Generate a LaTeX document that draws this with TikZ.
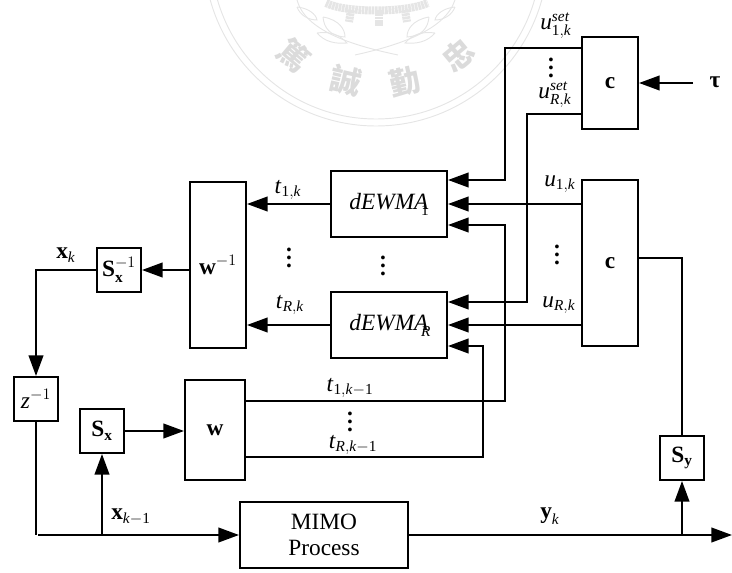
\documentclass[tikz,border=0pt]{standalone}
\usepackage{amsmath}
\usepackage{fontspec}
\setmainfont{Liberation Serif}
\newfontfamily\cjkseal{Noto Sans CJK TC}
\usetikzlibrary{arrows.meta}
\DeclareMathSizes{17.5}{17.5}{11.5}{9}
\newcommand{\tit}[1]{\text{\textit{#1}}}
\newcommand{\tbf}[1]{\text{\textbf{#1}}}
\newcommand{\trm}[1]{\text{\textup{#1}}}
\newcommand{\dotcol}{\vbox{\baselineskip=6pt\lineskiplimit=0pt\hbox{\textbf{.}}\hbox{\textbf{.}}\hbox{\textbf{.}}}}
\newcommand{\dewmalab}[1]{\textit{dEWMA}\rlap{\kern-5.5pt\raisebox{-4.5pt}{\fontsize{11.5}{12}\selectfont #1}}}
\tikzset{
  box/.style={draw, line width=1.5pt, inner sep=0pt, font=\fontsize{17.5}{20}\selectfont},
  sig/.style={line width=1.5pt},
  lab/.style={inner sep=0pt, font=\fontsize{17.5}{20}\selectfont},
  seal/.style={draw=black!10, line width=0.7pt},
  sealfill/.style={black!10, line width=6pt, dash pattern=on 2pt off 0.5pt},
  sealchar/.style={inner sep=0pt, text=black!14, font=\cjkseal\bfseries\fontsize{23}{25}\selectfont}
}
\begin{document}
\begin{tikzpicture}[x=0.75pt, y=-0.75pt, >={Triangle[length=15.5pt,width=11pt]}]
    \useasboundingbox (0,0) rectangle (732,573);

    % Faint seal behind the diagram
    \begin{scope}
    \clip (0,0) rectangle (732,573);
    \draw[seal] (376,-46) circle (172);
    \draw[seal] (376,-46) circle (165);
    % branches
    \draw[seal] (398,55) .. controls (350,45) and (305,30) .. (297,0);
    \draw[seal] (355,55) .. controls (400,45) and (445,30) .. (455,0);
    % leaves
    \draw[seal] (323,17) .. controls (340,20) and (345,30) .. (345,37) .. controls (330,36) and (324,28) .. (323,17);
    \draw[seal] (317,33) .. controls (330,31) and (340,35) .. (347,43) .. controls (335,44) and (325,42) .. (317,33);
    \draw[seal] (297,7) .. controls (308,8) and (316,14) .. (317,20) .. controls (308,20) and (300,15) .. (297,7);
    \draw[seal] (429,17) .. controls (412,20) and (407,30) .. (407,37) .. controls (422,36) and (428,28) .. (429,17);
    \draw[seal] (435,33) .. controls (422,31) and (412,35) .. (405,43) .. controls (417,44) and (427,42) .. (435,33);
    \draw[seal] (455,7) .. controls (444,8) and (436,14) .. (435,20) .. controls (444,20) and (452,15) .. (455,7);
    % gear
    \draw[sealfill] (326,3) .. controls (345,13) and (405,13) .. (428,3);
    \draw[sealfill] (379,10) -- (379,26);
    \draw[sealfill] (351,10) -- (349,22);
    \draw[sealfill] (405,10) -- (407,22);
    \end{scope}
    \node[sealchar, rotate=-40] (sealone) at (294,55) {篤};
    \node[sealchar, rotate=-13] (sealtwo) at (346,81) {誠};
    \node[sealchar, rotate=13] (sealthree) at (405,82) {勤};
    \node[sealchar, rotate=40] (sealfour) at (458,55) {忠};

    % Blocks
    \node[box, minimum width=42pt, minimum height=69pt] (cset) at (610,83) {$\tbf{c}$};
    \node[box, minimum width=42pt, minimum height=124.5pt] (cout) at (610,263) {$\tbf{c}$};
    \node[box, minimum width=87pt, minimum height=49.5pt] (dewmaone) at (389,204) {\dewmalab{1}};
    \node[box, minimum width=87pt, minimum height=49.5pt] (dewmar) at (389,325) {\dewmalab{\textit{R}}};
    \node[box, minimum width=42pt, minimum height=124.5pt] (winv) at (218,265) {$\tbf{w}^{-1}$};
    \node[box, minimum width=33pt, minimum height=33pt] (sxinv) at (119,270) {$\tbf{S}_{\tbf{x}}^{-1}$};
    \node[box, minimum width=33pt, minimum height=33pt] (delay) at (36,399) {$\tit{z}^{-1}$};
    \node[box, minimum width=33pt, minimum height=33pt] (sx) at (102,431) {$\tbf{S}_{\tbf{x}}$};
    \node[box, minimum width=45pt, minimum height=75pt] (wfor) at (215,430) {$\tbf{w}$};
    \node[box, minimum width=126pt, minimum height=49.5pt, align=center] (mimo) at (324,535) {MIMO\\ Process};
    \node[box, minimum width=33pt, minimum height=33pt] (sy) at (682,458) {$\tbf{S}_{\tbf{y}}$};

    % Corners of the routed lines
    \coordinate (setonetop) at (505,48);
    \coordinate (setonelow) at (505,180);
    \coordinate (setrtop) at (527,114);
    \coordinate (setrlow) at (527,302);
    \coordinate (toldlow) at (505,401);
    \coordinate (toldtop) at (505,225);
    \coordinate (troldlow) at (483,457);
    \coordinate (troldtop) at (483,346);
    \coordinate (xcorner) at (36,270);
    \coordinate (zend) at (36,535);
    \coordinate (busstart) at (38,535);
    \coordinate (ycorner) at (682,258);
    \coordinate (tauend) at (693,83);
    \coordinate (yout) at (732,535);

    % Set points from the upper block
    \draw[sig, ->] (cset.west |- setonetop) -- (setonetop) -- (setonelow) -- (dewmaone.east |- setonelow);
    \draw[sig, ->] (cset.west |- setrtop) -- (setrtop) -- (setrlow) -- (dewmar.east |- setrlow);
    \draw[sig, ->] (tauend) -- (cset.east);

    % Inputs from the lower block
    \draw[sig, ->] (cout.west |- dewmaone.east) -- (dewmaone.east);
    \draw[sig, ->] (cout.west |- dewmar.east) -- (dewmar.east);

    % Old targets back to the controllers
    \draw[sig, ->] (wfor.east |- toldlow) -- (toldlow) -- (toldtop) -- (dewmaone.east |- toldtop);
    \draw[sig, ->] (wfor.east |- troldlow) -- (troldlow) -- (troldtop) -- (dewmar.east |- troldtop);

    % Outputs to the inverse block
    \draw[sig, ->] (dewmaone.west) -- (winv.east |- dewmaone.west);
    \draw[sig, ->] (dewmar.west) -- (winv.east |- dewmar.west);
    \draw[sig, ->] (winv.west |- sxinv.east) -- (sxinv.east);
    \draw[sig, ->] (sxinv.west) -- (xcorner) -- (delay.north);

    % Lower loop
    \draw[sig] (delay.south) -- (zend);
    \draw[sig, ->] (busstart) -- (mimo.west);
    \draw[sig, ->] (sx.south |- busstart) -- (sx.south);
    \draw[sig, ->] (sx.east) -- (wfor.west |- sx.east);
    \draw[sig, ->] (mimo.east) -- (yout);
    \draw[sig, ->] (sy.south |- yout) -- (sy.south);
    \draw[sig] (sy.north) -- (ycorner) -- (cout.east |- ycorner);

    % Labels
    \node[lab] (lusetone) at (556,26) {$\tit{u}_{\trm{1},\tit{k}}^{\tit{set}}$};
    \node[lab] (ldotsset) at (551,68) {\dotcol};
    \node[lab] (lusetr) at (555,95) {$\tit{u}_{\tit{R},\tit{k}}^{\tit{set}}$};
    \node[lab] (ltau) at (715,82) {\textbf{τ}};
    \node[lab] (luone) at (560,184) {$\tit{u}_{\trm{1},\tit{k}}$};
    \node[lab] (ldotsu) at (557,255) {\dotcol};
    \node[lab] (lur) at (559,305) {$\tit{u}_{\tit{R},\tit{k}}$};
    \node[lab] (ltone) at (288,190) {$\tit{t}_{\trm{1},\tit{k}}$};
    \node[lab] (ldotst) at (289,258) {\dotcol};
    \node[lab] (ltr) at (290,305) {$\tit{t}_{\tit{R},\tit{k}}$};
    \node[lab] (ldotsdewma) at (383,266) {\dotcol};
    \node[lab] (lxk) at (66,255) {$\tbf{x}_{\tit{k}}$};
    \node[lab] (lxold) at (131,517) {$\tbf{x}_{\tit{k}-\trm{1}}$};
    \node[lab] (ltoldone) at (350,388) {$\tit{t}_{\trm{1},\tit{k}-\trm{1}}$};
    \node[lab] (ldotsold) at (350,422) {\dotcol};
    \node[lab] (ltoldr) at (353,445) {$\tit{t}_{\tit{R},\tit{k}-\trm{1}}$};
    \node[lab] (lyk) at (550,516) {$\tbf{y}_{\tit{k}}$};
\end{tikzpicture}
\end{document}
